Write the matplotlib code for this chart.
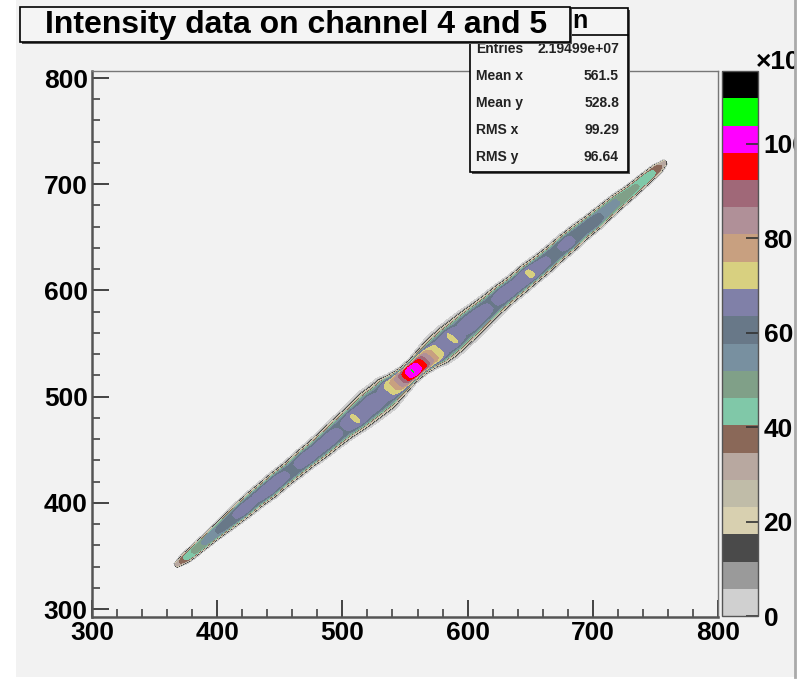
import numpy as np
import matplotlib
matplotlib.use('Agg')
import matplotlib.pyplot as plt
from matplotlib.colors import ListedColormap, BoundaryNorm
from matplotlib.patches import Rectangle
from matplotlib.lines import Line2D

plt.rcParams['font.family'] = ['Liberation Sans', 'DejaVu Sans']
plt.rcParams['font.weight'] = 'bold'

# band: centre line, visible half width, peak (x10^3)
band_x = [367, 375, 385, 395, 410, 420, 430, 440, 450, 460, 470, 480, 490, 500, 510, 518, 525, 532, 538, 544,
          548, 552, 556, 560, 564, 568, 574, 580, 588, 595, 602, 610, 620, 630, 640, 650, 660, 670, 680, 690,
          700, 710, 720, 730, 740, 747, 752, 758]
band_y = [341, 348, 358, 368, 383, 393, 403, 412, 422, 431, 441, 450, 460, 470, 479, 487, 494, 500, 507, 512,
          516, 520, 524, 528, 532, 536, 541, 547, 555, 562, 569, 577, 587, 597, 606, 616, 625, 635, 645, 655,
          664, 674, 684, 693, 703, 710, 715, 721]
band_hw = [2, 4.5, 5, 5.5, 7, 8, 8.5, 9, 9, 9, 9.5, 10, 10.5, 11.5, 12.5, 13.5, 14, 14, 13, 11,
           10, 9, 9, 9, 10, 11, 13, 14, 14, 13.5, 13, 12, 11, 10.5, 10, 10, 9.5, 9, 9, 8.5,
           8, 7.5, 7, 6, 5.5, 5, 4.5, 2]
band_peak = [30, 42, 50, 56, 62, 66, 64, 67, 66, 62, 67, 65, 66, 63, 70, 66, 67, 64, 71, 80,
             88, 98, 104, 100, 94, 84, 74, 66, 70, 64, 67, 66, 63, 67, 66, 70, 65, 62, 66, 60,
             62, 56, 52, 48, 45, 42, 38, 30]

zmax = 115.4
pal_colors = ['#d0d0d0', '#9a9a9a', '#4a4a4a', '#d8d0b0', '#c0bca8', '#b8a8a0', '#8a6858',
              '#80c8a8', '#80a088', '#7890a0', '#687888', '#8080a8', '#d8d080', '#c8a080',
              '#b09098', '#a06878', '#ff0000', '#ff00ff', '#00ff00', '#000000']
cbar_ticks = [0, 20, 40, 60, 80, 100]

stat_names = ['Entries', 'Mean x', 'Mean y', 'RMS x', 'RMS y']
stat_values = ['2.19499e+07', '561.5', '528.8', '99.29', '96.64']
title = 'Intensity data on channel 4 and 5'

W, H = 807, 679
def fx(x):
    return x / W
def fy(y):
    return 1 - y / H

# build the 2d field along the band
bx = np.array(band_x, float)
by = np.array(band_y, float)
p0 = np.array([bx[0], by[0]])
u = np.array([bx[-1] - bx[0], by[-1] - by[0]])
u = u / np.linalg.norm(u)
n = np.array([-u[1], u[0]])
s_pts = (bx - p0[0]) * u[0] + (by - p0[1]) * u[1]
v_pts = (bx - p0[0]) * n[0] + (by - p0[1]) * n[1]

gx = np.arange(300, 801, 1.0)
gy = np.arange(292, 808, 1.0)
X, Y = np.meshgrid(gx, gy)
S = (X - p0[0]) * u[0] + (Y - p0[1]) * u[1]
V = (X - p0[0]) * n[0] + (Y - p0[1]) * n[1]
vc = np.interp(S, s_pts, v_pts)
hw = np.interp(S, s_pts, band_hw)
pk = np.interp(S, s_pts, band_peak)
Z = pk * np.exp(-2.4 * np.abs((V - vc) / hw) ** 6)
Z[(S < s_pts[0]) | (S > s_pts[-1])] = 0

bounds = np.linspace(0, zmax, len(pal_colors) + 1)
cmap = ListedColormap(pal_colors)

fig = plt.figure(figsize=(W / 100, H / 100), dpi=100)
fig.patch.set_facecolor('white')
fig.add_artist(Rectangle((fx(16), fy(677)), fx(795) - fx(16), 1 - fy(677),
                         transform=fig.transFigure, facecolor='#f2f2f2', edgecolor='none', zorder=-10))

ax = fig.add_axes([fx(92), fy(617), fx(718) - fx(92), fy(71) - fy(617)])
ax.set_facecolor('none')
lv = bounds.copy()
lv[0] = 0.5
ax.contourf(X, Y, Z, levels=lv, colors=pal_colors)
ax.set_xlim(300, 800)
ax.set_ylim(292.5, 806.6)
ax.set_xticks([300, 400, 500, 600, 700, 800])
ax.set_yticks([300, 400, 500, 600, 700, 800])
ax.set_xticks(np.arange(300, 801, 20), minor=True)
ax.set_yticks(np.arange(300, 801, 20), minor=True)
ax.tick_params(which='both', direction='in', top=False, right=False, colors='#444444', labelcolor='black')
ax.tick_params(which='major', length=12, width=1.4, labelsize=19, pad=3)
ax.tick_params(which='minor', length=6, width=1.2)
for side in ['left', 'bottom']:
    ax.spines[side].set_color('#555555')
    ax.spines[side].set_linewidth(1.8)
for side in ['top', 'right']:
    ax.spines[side].set_color('#777777')
    ax.spines[side].set_linewidth(1.0)

# palette
cax = fig.add_axes([fx(722), fy(616), fx(758) - fx(722), fy(71) - fy(616)])
sm = plt.cm.ScalarMappable(norm=BoundaryNorm(bounds, cmap.N), cmap=cmap)
cb = fig.colorbar(sm, cax=cax, ticks=cbar_ticks)
cb.outline.set_linewidth(1.0)
cb.outline.set_edgecolor('#555555')
cax.tick_params(direction='in', length=9, width=1.2, labelsize=19, pad=4, colors='#333333', labelcolor='black')
cax.minorticks_off()
cb.set_ticklabels([str(t) for t in cbar_ticks])
fig.text(fx(756), fy(62), '×10³', fontsize=19, ha='left', va='center')

# stats box
fig.add_artist(Rectangle((fx(472), fy(174)), fx(630) - fx(472), fy(10) - fy(174),
                         transform=fig.transFigure, facecolor='#555555', edgecolor='none', zorder=4))
fig.add_artist(Rectangle((fx(470), fy(172)), fx(628) - fx(470), fy(8) - fy(172),
                         transform=fig.transFigure, facecolor='#f4f4f4', edgecolor='black', lw=1.2, zorder=5))
fig.add_artist(Line2D([fx(470), fx(628)], [fy(35), fy(35)], transform=fig.transFigure, color='black', lw=1.2, zorder=6))
fig.text(fx(572), fy(21), 'n', fontsize=18, ha='left', va='center', zorder=7)
rows_y = [49, 76, 103, 130, 157]
for name, val, ry in zip(stat_names, stat_values, rows_y):
    fig.text(fx(476), fy(ry), name, fontsize=10, ha='left', va='center', color='#222222', zorder=7)
    fig.text(fx(619), fy(ry), val, fontsize=10, ha='right', va='center', color='#222222', zorder=7)

# title box
fig.add_artist(Rectangle((fx(22), fy(44)), fx(572) - fx(22), fy(9) - fy(44),
                         transform=fig.transFigure, facecolor='#555555', edgecolor='none', zorder=8))
fig.add_artist(Rectangle((fx(20), fy(42)), fx(570) - fx(20), fy(7) - fy(42),
                         transform=fig.transFigure, facecolor='#f4f4f4', edgecolor='black', lw=1.2, zorder=9))
fig.text(fx(296), fy(25), title, fontsize=23, ha='center', va='center', zorder=10)

# white strip on the right that cuts the palette label
fig.add_artist(Rectangle((fx(796), 0), 1 - fx(796), 1, transform=fig.transFigure,
                         facecolor='white', edgecolor='none', zorder=20))
fig.add_artist(Line2D([fx(795), fx(795)], [fy(677), 1], transform=fig.transFigure, color='#aaaaaa', lw=2, zorder=21))

fig.savefig('out.png', dpi=100)
